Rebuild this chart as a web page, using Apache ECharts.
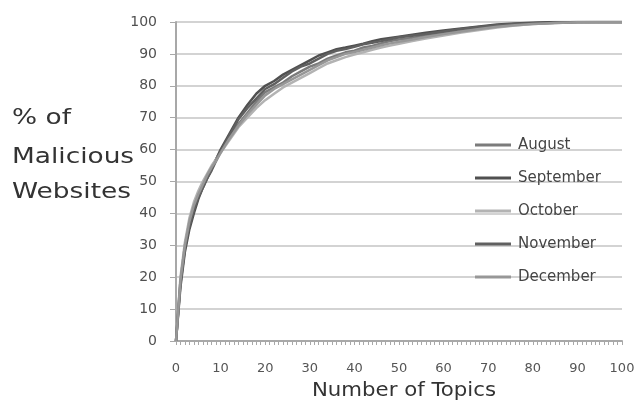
<!DOCTYPE html>
<html>
<head>
<meta charset="utf-8">
<script src="https://cdn.jsdelivr.net/npm/echarts@6/dist/echarts.min.js"></script>
<style>html,body{margin:0;padding:0;background:#fff}#c{width:639px;height:405px}</style>
</head>
<body>
<div id="c"></div>
<script>
const topics = [0,1,2,3,4,5,6,7,8,9,10,12,14,16,18,20,22,24,26,28,30,32,34,36,38,40,42,44,46,48,50,53,56,60,64,68,72,76,80,85,90,95,100];
const seriesNames = ['August','September','October','November','December'];
const august    = [0,19,30,37,42,46,49,52,54.5,57,59.5,64,68,71.5,75,78,79.5,81,83,84.5,86,87,88.5,89.5,90.5,91,92,92.5,93.3,94,94.5,95,95.8,96.5,97.2,98,98.7,99.2,99.6,99.8,100,100,100];
const september = [0,17,28,35,40,44.5,48,51,54,57,60,65,70,74,77.5,80,81.5,83.5,85,86.5,88,89.5,90.5,91.5,92,92.6,93.2,94,94.6,95,95.4,96,96.6,97.3,98,98.6,99.2,99.5,99.8,100,100,100,100];
const october   = [0,20,31,38.5,43.5,47,50,52.5,55,57,59,63,67,70,73,75.5,77.5,79.5,81,82.5,84,85.5,87,88,89,89.8,90.5,91.3,92,92.6,93.2,94,94.8,95.8,96.7,97.5,98.3,98.9,99.4,99.7,99.9,100,100];
const november  = [0,18,29,36,41,45,48,51,53.5,56.5,59.5,64.5,69.5,73,76,79,80.5,82.5,84.5,86,87,88.5,90,91,91.5,92.2,93,93.5,94,94.6,95.2,95.7,96.2,97,97.8,98.4,99,99.4,99.6,99.8,100,100,100];
const december  = [0,19,30,37.5,42.5,46,49,52,54.5,56.5,59,63.5,67.5,71,74,77,79,80.5,82,83.5,85,86.5,88,89,90,90.6,91.3,92,92.7,93.3,93.8,94.5,95.3,96.2,97,97.8,98.5,99,99.4,99.7,99.9,100,100];
const seriesValues = [august, september, october, november, december];
const seriesColors = ['#7b7b7b','#505050','#b3b3b3','#606060','#979797'];
const yTitleLines = ['% of','Malicious','Websites'];
const xTitle = 'Number of Topics';

const chart = echarts.init(document.getElementById('c'), null, {renderer:'canvas'});
const series = seriesNames.map((n,i)=>({
  name:n, type:'line', showSymbol:false, symbol:'none', smooth:false,
  data: topics.map((t,j)=>[t, seriesValues[i][j]]),
  lineStyle:{width:2.5, color:seriesColors[i]},
  itemStyle:{color:seriesColors[i]}
}));
const yTitleY = [118, 157, 192];
chart.setOption({
  animation:false,
  backgroundColor:'#fff',
  grid:{left:176, right:17, top:22, bottom:64, containLabel:false},
  xAxis:{type:'value', min:0, max:100, interval:10,
    axisLine:{show:true, lineStyle:{color:'#a8a8a8', width:2}},
    axisTick:{show:true, length:4, lineStyle:{color:'#a8a8a8'}},
    minorTick:{show:true, splitNumber:10, length:4, lineStyle:{color:'#a8a8a8'}},
    splitLine:{show:false},
    axisLabel:{margin:21, fontFamily:'DejaVu Sans', fontSize:13, color:'#555'}
  },
  yAxis:{type:'value', min:0, max:100, interval:10,
    axisLine:{show:true, lineStyle:{color:'#a8a8a8', width:2}},
    axisTick:{show:true, length:6, lineStyle:{color:'#a8a8a8'}},
    splitLine:{show:true, lineStyle:{color:'#c4c4c4', width:1.5}},
    axisLabel:{margin:19, fontFamily:'DejaVu Sans', fontSize:14, color:'#505050'}
  },
  legend:{orient:'vertical', left:470, top:131, itemWidth:36, itemHeight:14, itemGap:15,
    icon:'path://M0,6 L36,6 L36,9 L0,9 Z',
    textStyle:{fontFamily:'DejaVu Sans', fontSize:15, color:'#444', lineHeight:18, padding:[0,0,0,2]},
    data:seriesNames
  },
  graphic: yTitleLines.map((t,i)=>({type:'text', x:12, y:yTitleY[i], scaleX:1.2,
      style:{text:t, font:'22px "DejaVu Sans"', fill:'#333', textAlign:'left', textVerticalAlign:'middle'}}))
    .concat([{type:'text', x:404, y:391, scaleX:1.12,
      style:{text:xTitle, font:'19px "DejaVu Sans"', fill:'#333', textAlign:'center', textVerticalAlign:'middle'}}]),
  series: series
});
</script>
</body>
</html>
